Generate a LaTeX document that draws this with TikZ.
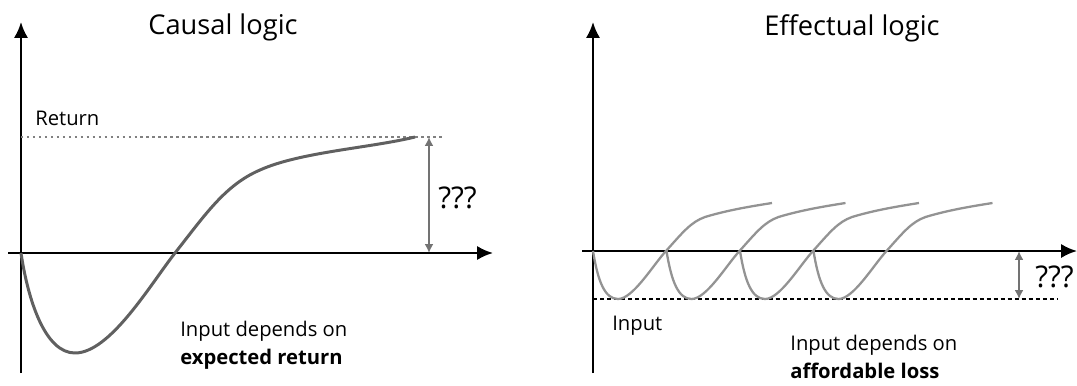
\documentclass[tikz,border=0pt]{standalone}
\usepackage{fontspec}
\setmainfont{Open Sans}
\usetikzlibrary{arrows.meta}

\begin{document}
\begin{tikzpicture}[
    x=0.02cm, y=-0.02cm,
    >={Latex[length=9pt,width=8pt]},
    axis/.style={draw, line width=1.3pt, ->},
    curve/.style={draw, line width=1.7pt, gray!75!black, line join=round},
    tryline/.style={draw, line width=1.3pt, gray!85, line join=round},
    gap/.style={draw, line width=1pt, gray!90!black, {Latex[length=5pt,width=5pt]}-{Latex[length=5pt,width=5pt]}},
    title/.style={inner sep=0pt, font=\fontsize{15.5}{18}\selectfont},
    ask/.style={inner sep=0pt, font=\fontsize{17}{20}\selectfont},
    label/.style={inner sep=0pt, font=\fontsize{11.5}{16}\selectfont, align=left}
]
\useasboundingbox (0,0) rectangle (1077,385);

% Causal logic
\coordinate (lo) at (21,253);
\coordinate (ltop) at (21,22);
\coordinate (lbot) at (21,373);
\coordinate (lleft) at (8,253);
\coordinate (lright) at (493,253);
\coordinate (lret) at (429,137);
\coordinate (lzero) at (429,253);

\draw[axis] (lbot) -- (ltop);
\draw[axis] (lleft) -- (lright);
\draw[gray, line width=1.3pt, dash pattern=on 1.4pt off 2pt] (ltop |- lret) -- (445,137);
\draw[curve] (lo) .. controls (28,300) and (45,353) .. (75,353)
    .. controls (110,353) and (150,285) .. (175,253)
    .. controls (205,215) and (225,185) .. (260,170)
    .. controls (300,152) and (370,148) .. (415,137);
\draw[gap] (lret) -- (lzero);

\node[title, anchor=base] (ctitle) at (223,35) {Causal logic};
\node[label, anchor=base west] (return) at (35,125) {Return};
\node[ask, anchor=base west] (lq) at (438,208) {???};
\node[label, anchor=north west] (expret) at (180,321) {Input depends on\\\textbf{expected return}};

% Effectual logic
\coordinate (ro) at (593,251);
\coordinate (rtop) at (593,22);
\coordinate (rbot) at (593,373);
\coordinate (rleft) at (582,251);
\coordinate (rright) at (1077,251);
\coordinate (lossl) at (593,299);
\coordinate (lossr) at (1058,299);
\coordinate (rzero) at (1019,251);
\coordinate (rloss) at (1019,299);

\draw[axis] (rbot) -- (rtop);
\draw[axis] (rleft) -- (rright);
\draw[line width=1pt, dash pattern=on 2.3pt off 1.7pt] (lossl) -- (lossr);
\foreach \s in {593,666.5,740,813.5}
    \draw[tryline] (\s,251) .. controls ({\s+5},282) and ({\s+12},299) .. ({\s+25},299)
        .. controls ({\s+40},299) and ({\s+60},265) .. ({\s+73},251)
        .. controls ({\s+90},232) and ({\s+98},222) .. ({\s+112},217)
        .. controls ({\s+135},210) and ({\s+160},206) .. ({\s+179},203);
\draw[gap] (rzero) -- (rloss);

\node[title, anchor=base] (etitle) at (852,36) {Effectual logic};
\node[label, anchor=base west] (input) at (612,330) {Input};
\node[ask, anchor=base west] (rq) at (1035,287) {???};
\node[label, anchor=north west] (affloss) at (790,335) {Input depends on\\\textbf{affordable loss}};

\end{tikzpicture}
\end{document}
